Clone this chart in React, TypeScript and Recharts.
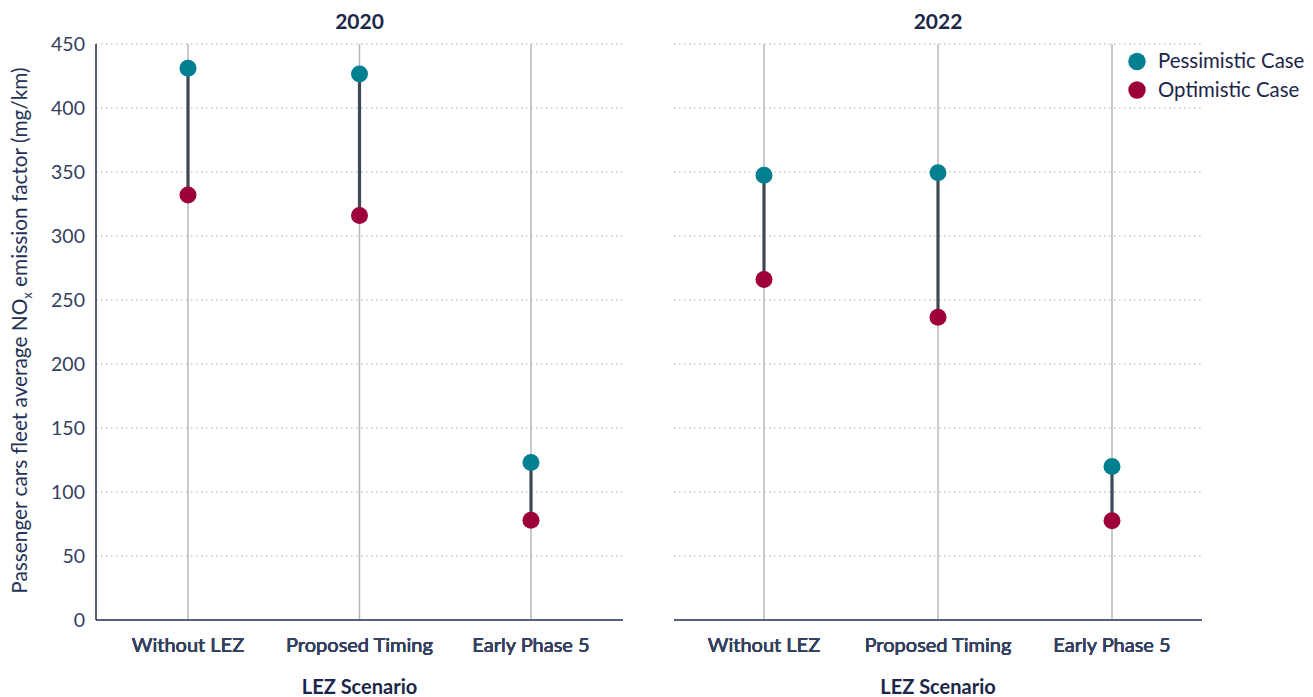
import React from 'react';
import { ComposedChart, Line, XAxis, YAxis, CartesianGrid } from 'recharts';

const categories = ['Without LEZ', 'Proposed Timing', 'Early Phase 5'];
const pessimistic2020 = [431, 426.5, 123];
const optimistic2020 = [332, 316, 78];
const pessimistic2022 = [347.5, 349.5, 120];
const optimistic2022 = [266, 236.5, 77.5];
const yTicks = [0, 50, 100, 150, 200, 250, 300, 350, 400, 450];
const panelTitles = ['2020', '2022'];
const seriesNames = ['Pessimistic Case', 'Optimistic Case'];
const xAxisTitle = 'LEZ Scenario';

const TEAL = '#027f91';
const CRIMSON = '#9d0039';
const SEG = '#3d4954';
const FONT = 'Lato, "Noto Sans", sans-serif';
const TICK_COLOR = '#34405f';
const NAVY = '#1c2649';

type PanelProps = {
  pess: number[];
  opt: number[];
  showY: boolean;
  width: number;
  margin: { top: number; right: number; bottom: number; left: number };
  pad: number;
};

function Panel({ pess, opt, showY, width, margin, pad }: PanelProps) {
  const data = categories.map((c, i) => ({ cat: c, pess: pess[i], opt: opt[i] }));
  const yMin = yTicks[0];
  const yMax = yTicks[yTicks.length - 1];
  return (
    <ComposedChart width={width} height={697} data={data} margin={margin}>
      <CartesianGrid horizontal={true} vertical={false} stroke="#c3c6cb" strokeWidth={1.5} strokeDasharray="1.5 3.5" />
      <XAxis
        dataKey="cat"
        type="category"
        scale="point"
        allowDuplicatedCategory={false}
        padding={{ left: pad, right: pad }}
        axisLine={{ stroke: '#56617f', strokeWidth: 2 }}
        tickLine={false}
        tickMargin={12}
        interval={0}
        height={30}
        tick={{ fill: TICK_COLOR, fontSize: 20, fontFamily: FONT }}
      />
      <YAxis
        type="number"
        domain={[yMin, yMax]}
        ticks={yTicks}
        interval={0}
        width={96}
        hide={!showY}
        axisLine={{ stroke: '#1f2b4d', strokeWidth: 1.5 }}
        tickLine={false}
        tickMargin={5}
        tick={{ fill: TICK_COLOR, fontSize: 19.5, fontFamily: FONT }}
      />
      {categories.map((c, i) => (
        <Line
          key={'stem' + i}
          data={[{ cat: c, v: yMin }, { cat: c, v: yMax }]}
          dataKey="v"
          stroke="#b4b8be"
          strokeWidth={1.5}
          dot={false}
          activeDot={false}
          isAnimationActive={false}
          legendType="none"
        />
      ))}
      {categories.map((c, i) => (
        <Line
          key={'seg' + i}
          data={[{ cat: c, v: opt[i] }, { cat: c, v: pess[i] }]}
          dataKey="v"
          stroke={SEG}
          strokeWidth={3.2}
          dot={false}
          activeDot={false}
          isAnimationActive={false}
          legendType="none"
        />
      ))}
      <Line
        dataKey="pess"
        stroke="none"
        dot={{ r: 8.5, fill: TEAL, stroke: 'none', strokeWidth: 0 }}
        activeDot={false}
        isAnimationActive={false}
      />
      <Line
        dataKey="opt"
        stroke="none"
        dot={{ r: 8.5, fill: CRIMSON, stroke: 'none', strokeWidth: 0 }}
        activeDot={false}
        isAnimationActive={false}
      />
    </ComposedChart>
  );
}

export default function App() {
  const centers = [359.5, 938];
  return (
    <div style={{ position: 'absolute', left: 0, top: 0, width: 1313, height: 697, background: '#fff', fontFamily: FONT }}>
      <div style={{ position: 'absolute', left: 0, top: 0 }}>
        <Panel
          pess={pessimistic2020}
          opt={optimistic2020}
          showY={true}
          width={640}
          margin={{ top: 44, right: 17, bottom: 47, left: 0 }}
          pad={92}
        />
      </div>
      <div style={{ position: 'absolute', left: 640, top: 0 }}>
        <Panel
          pess={pessimistic2022}
          opt={optimistic2022}
          showY={false}
          width={673}
          margin={{ top: 44, right: 111, bottom: 47, left: 34 }}
          pad={90}
        />
      </div>
      <svg width={1313} height={697} style={{ position: 'absolute', left: 0, top: 0, pointerEvents: 'none' }}>
        {panelTitles.map((t, i) => (
          <text key={t} x={centers[i]} y={29} textAnchor="middle" fontFamily={FONT} fontWeight={700} fontSize={21} fill={NAVY}>
            {t}
          </text>
        ))}
        {centers.map((cx, i) => (
          <text key={'xt' + i} x={cx} y={694} textAnchor="middle" fontFamily={FONT} fontWeight={700} fontSize={20} fill={NAVY}>
            {xAxisTitle}
          </text>
        ))}
        <text transform="translate(27, 330.5) rotate(-90)" textAnchor="middle" fontFamily={FONT} fontSize={20.8} fill="#243257">
          <tspan>Passenger cars fleet average NO</tspan>
          <tspan dy={5} fontSize={13}>x</tspan>
          <tspan dy={-5}> emission factor (mg/km)</tspan>
        </text>
        {seriesNames.map((n, i) => (
          <g key={n}>
            <circle cx={1137} cy={61.5 + i * 28.5} r={8.7} fill={i === 0 ? TEAL : CRIMSON} />
            <text x={1158} y={68.3 + i * 28.5} fontFamily={FONT} fontSize={20.4} fill={NAVY}>
              {n}
            </text>
          </g>
        ))}
      </svg>
    </div>
  );
}
